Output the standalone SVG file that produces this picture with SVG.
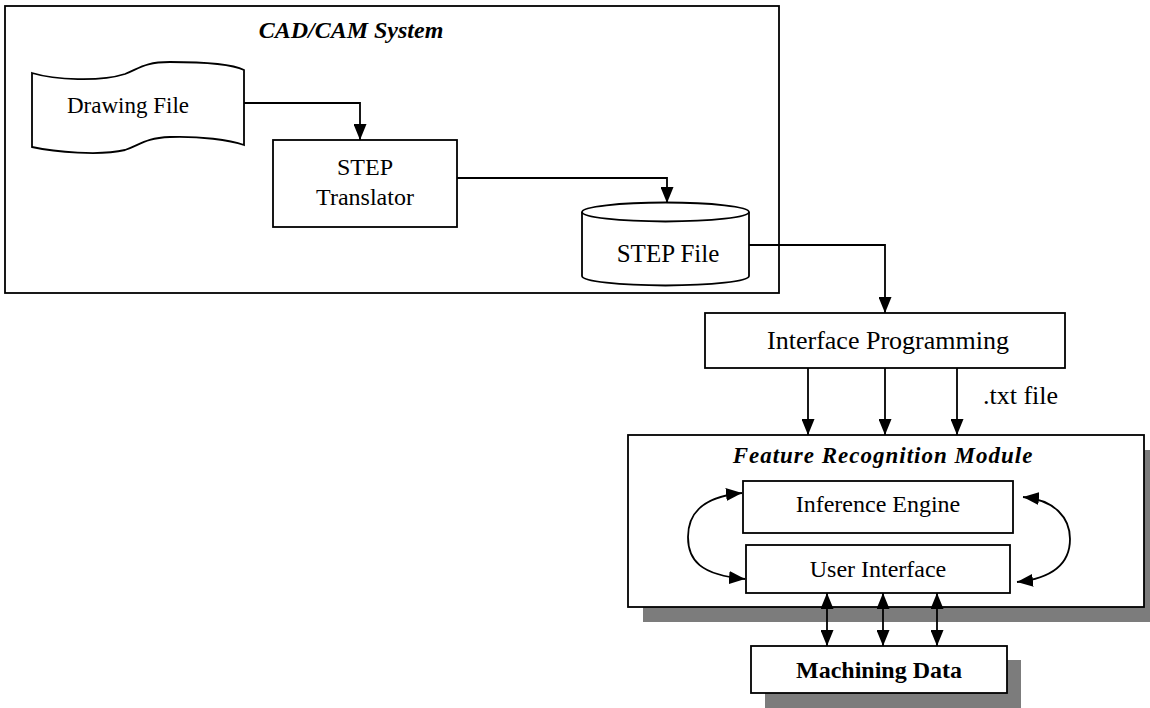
<svg xmlns="http://www.w3.org/2000/svg" width="1150" height="708" viewBox="0 0 1150 708">
<defs>
<marker id="ah" viewBox="0 0 16 13" refX="16" refY="6.5" markerWidth="16" markerHeight="13" markerUnits="userSpaceOnUse" orient="auto-start-reverse">
<path d="M0,0 L16,6.5 L0,13 Z" fill="#000"/>
</marker>
</defs>
<style>
.box{fill:#fff;stroke:#000;stroke-width:1.8}
.shadow{fill:#7c7c7c;stroke:none}
.t{font-family:"Liberation Serif","Times New Roman",serif;fill:#000;text-anchor:middle}
.title{font-weight:bold;font-style:italic}
.conn{fill:none;stroke:#000;stroke-width:1.8}
.arr{marker-end:url(#ah)}
.dbl{marker-start:url(#ah);marker-end:url(#ah)}
</style>
<rect width="1150" height="708" fill="#fff"/>

<g id="cadcam">
<rect class="box" x="5" y="6" width="774" height="287"/>
<text class="t title" x="351" y="38" font-size="24">CAD/CAM System</text>
</g>

<g id="drawing-file">
<path class="box" d="M32,73 C55,80 100,82 125,74 C140,68 145,62 170,62 C200,62 230,63 244,70 L244,145 C230,140 200,136 170,137 C145,138 140,145 125,150 C100,156 55,152 32,147 Z"/>
<text class="t" x="128" y="113" font-size="23">Drawing File</text>
</g>

<g id="step-translator">
<rect class="box" x="273" y="140" width="184" height="87"/>
<text class="t" x="365" y="175" font-size="24">STEP</text>
<text class="t" x="365" y="205" font-size="24">Translator</text>
</g>

<g id="step-file">
<path class="box" d="M582,212 L582,276 A83.5,9.5 0 0 0 749,276 L749,212 A83.5,9.5 0 0 0 582,212 Z"/>
<path class="conn" d="M582,212 A83.5,9.5 0 0 0 749,212"/>
<text class="t" x="668" y="262" font-size="25">STEP File</text>
</g>

<g id="interface-programming">
<rect class="box" x="705" y="313" width="360" height="55"/>
<text class="t" x="888" y="349" font-size="26">Interface Programming</text>
</g>

<g id="txt-label">
<text class="t" x="983" y="404" font-size="26" style="text-anchor:start">.txt file</text>
</g>

<g id="feature-recognition">
<rect class="shadow" x="643" y="450" width="516" height="172"/>
<rect class="box" x="628" y="435" width="516" height="172"/>
<text class="t title" x="883" y="463" font-size="23" letter-spacing="1">Feature Recognition Module</text>
</g>

<g id="inference-engine">
<rect class="box" x="743" y="481" width="270" height="52"/>
<text class="t" x="878" y="512" font-size="24">Inference Engine</text>
</g>

<g id="user-interface">
<rect class="box" x="746" y="545" width="264" height="48"/>
<text class="t" x="878" y="577" font-size="24">User Interface</text>
</g>

<g id="machining-data">
<rect class="shadow" x="765" y="660" width="256" height="48"/>
<rect class="box" x="751" y="646" width="256" height="47"/>
<text class="t" x="879" y="678" font-size="24" font-weight="bold">Machining Data</text>
</g>

<g id="connectors">
<path class="conn arr" d="M244,103 H360 V140"/>
<path class="conn arr" d="M457,178 H667 V203"/>
<path class="conn arr" d="M749,245 H885 V313"/>
<path class="conn arr" d="M808,368 V435" stroke-width="2.2"/>
<path class="conn arr" d="M885,368 V435" stroke-width="2.2"/>
<path class="conn arr" d="M957,368 V435" stroke-width="2.2"/>
<path class="conn dbl" d="M742,493 C700,497 688,515 688,537 C688,560 700,575 745,579"/>
<path class="conn dbl" d="M1023,497 C1055,500 1070,518 1070,539 C1070,562 1055,578 1017,582"/>
<path class="conn dbl" d="M827,593 V646"/>
<path class="conn dbl" d="M883,593 V646"/>
<path class="conn dbl" d="M937,593 V646"/>
</g>
</svg>
